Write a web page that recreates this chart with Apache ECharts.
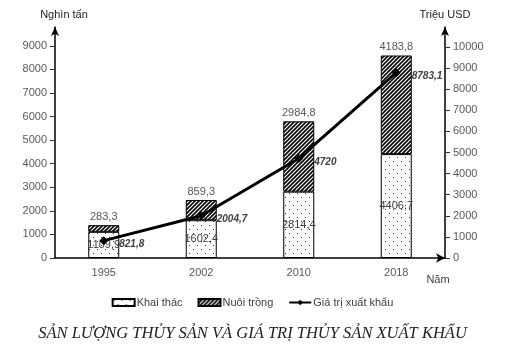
<!DOCTYPE html>
<html>
<head>
<meta charset="utf-8">
<script src="https://cdn.jsdelivr.net/npm/echarts@6/dist/echarts.min.js"></script>
<style>html,body{margin:0;padding:0;background:#fff}#c{width:505px;height:348px}</style>
</head>
<body>
<div id="c"></div>
<script>
const categories = ['1995', '2002', '2010', '2018'];
const khaiThac = [1109.9, 1602.4, 2814.4, 4406.7];
const nuoiTrong = [283.3, 859.3, 2984.8, 4183.8];
const giaTri = [821.8, 2004.7, 4720, 8783.1];
const leftTicks = [0, 1000, 2000, 3000, 4000, 5000, 6000, 7000, 8000, 9000];
const rightTicks = [0, 1000, 2000, 3000, 4000, 5000, 6000, 7000, 8000, 9000, 10000];

function fmt(v) { return Number.isInteger(v) ? String(v) : v.toFixed(1).replace('.', ','); }

function dotPattern() {
  const c = document.createElement('canvas'); c.width = 8; c.height = 8;
  const g = c.getContext('2d');
  g.fillStyle = '#fff'; g.fillRect(0, 0, 8, 8);
  g.fillStyle = '#333';
  g.fillRect(1, 1, 1, 1); g.fillRect(5, 5, 1, 1);
  return c;
}
function hatchPattern() {
  const s = 4;
  const c = document.createElement('canvas'); c.width = s; c.height = s;
  const g = c.getContext('2d');
  g.fillStyle = '#fff'; g.fillRect(0, 0, s, s);
  g.strokeStyle = '#000'; g.lineWidth = 1.6;
  g.beginPath();
  g.moveTo(-1, s + 1); g.lineTo(s + 1, -1);
  g.moveTo(-1, 1); g.lineTo(1, -1);
  g.moveTo(s - 1, s + 1); g.lineTo(s + 1, s - 1);
  g.stroke();
  return c;
}

const FONT = 'Liberation Sans';
const chart = echarts.init(document.getElementById('c'), null, { renderer: 'canvas' });
chart.setOption({
  animation: false,
  textStyle: { fontFamily: FONT },
  title: {
    text: 'SẢN LƯỢNG THỦY SẢN VÀ GIÁ TRỊ THỦY SẢN XUẤT KHẨU',
    left: 'center', top: 320,
    textStyle: { fontFamily: 'Liberation Serif', fontStyle: 'italic', fontWeight: 'normal', fontSize: 16.5, color: '#222' }
  },
  legend: {
    top: 292, left: 'center',
    itemWidth: 22, itemHeight: 7, itemGap: 15,
    textStyle: { fontSize: 11, color: '#404040', padding: [0, 0, 0, -3] },
    data: [
      { name: 'Khai thác', icon: 'rect' },
      { name: 'Nuôi trồng', icon: 'rect' },
      { name: 'Giá trị xuất khẩu' }
    ]
  },
  grid: { left: 55, right: 60, top: 27, bottom: 90 },
  xAxis: {
    type: 'category', data: categories,
    name: 'Năm', nameLocation: 'end', nameGap: -7,
    nameTextStyle: { align: 'center', verticalAlign: 'top', padding: [16, 0, 0, 0], color: '#404040', fontSize: 11 },
    axisLine: { lineStyle: { color: '#000', width: 1.5 }, symbol: ['none', 'arrow'], symbolSize: [7, 9] },
    axisTick: { show: false },
    axisLabel: { color: '#595959', fontSize: 11, margin: 9 }
  },
  yAxis: [
    {
      type: 'value', min: 0, max: 9800, position: 'left',
      name: 'Nghìn tấn', nameLocation: 'end', nameGap: 7,
      nameTextStyle: { color: '#222', fontSize: 11, padding: [0, 0, 0, 18] },
      axisLine: { show: true, lineStyle: { color: '#000', width: 1.5 }, symbol: ['none', 'arrow'], symbolSize: [6, 9] },
      axisTick: { show: true, customValues: leftTicks, length: 5, lineStyle: { color: '#333' } },
      axisLabel: { customValues: leftTicks, color: '#595959', fontSize: 11, margin: 8, formatter: v => String(v) },
      splitLine: { show: false }
    },
    {
      type: 'value', min: 0, max: 10950, position: 'right',
      name: 'Triệu USD', nameLocation: 'end', nameGap: 7,
      nameTextStyle: { color: '#222', fontSize: 11 },
      axisLine: { show: true, lineStyle: { color: '#000', width: 1.5 }, symbol: ['none', 'arrow'], symbolSize: [6, 9] },
      axisTick: { show: true, customValues: rightTicks, length: 5, lineStyle: { color: '#333' } },
      axisLabel: { customValues: rightTicks, color: '#595959', fontSize: 11, margin: 8, formatter: v => String(v) },
      splitLine: { show: false }
    }
  ],
  series: [
    {
      name: 'Khai thác', type: 'bar', stack: 'a', barWidth: 31, data: khaiThac,
      itemStyle: { color: { image: dotPattern(), repeat: 'repeat' }, borderColor: '#000', borderWidth: 1 },
      label: { show: true, position: 'inside', color: '#404040', fontSize: 11, formatter: p => fmt(p.value) }
    },
    {
      name: 'Nuôi trồng', type: 'bar', stack: 'a', barWidth: 31, data: nuoiTrong,
      itemStyle: { color: { image: hatchPattern(), repeat: 'repeat' }, borderColor: '#000', borderWidth: 1 },
      label: { show: true, position: 'top', distance: 3, color: '#595959', fontSize: 11, formatter: p => fmt(p.value) }
    },
    {
      name: 'Giá trị xuất khẩu', type: 'line', yAxisIndex: 1, data: giaTri,
      symbol: 'diamond', symbolSize: 9,
      lineStyle: { color: '#000', width: 3 },
      itemStyle: { color: '#000' },
      z: 5,
      label: { show: true, position: 'right', distance: 11, offset: [0, 4], color: '#404040', fontSize: 10, fontWeight: 'bold', fontStyle: 'italic', formatter: p => fmt(p.value) }
    }
  ]
});
</script>
</body>
</html>
